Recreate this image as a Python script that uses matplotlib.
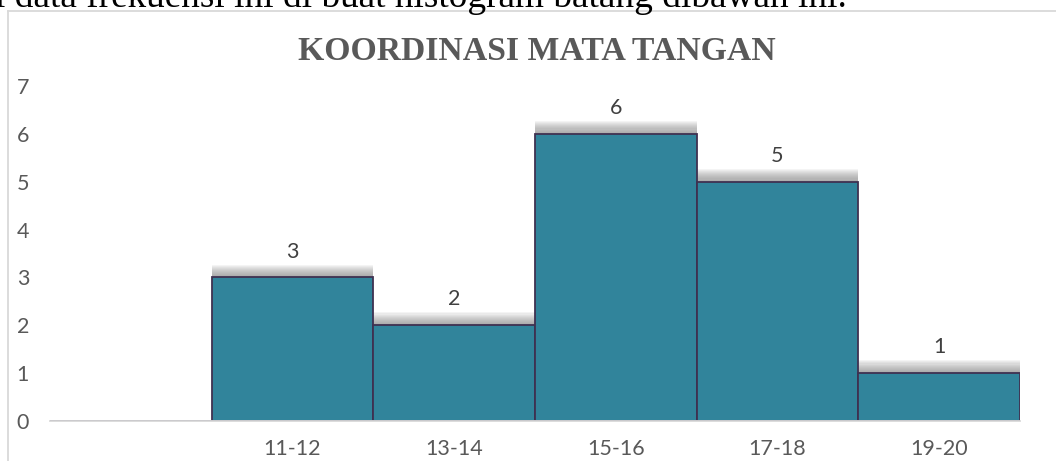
import matplotlib.pyplot as plt
from matplotlib.lines import Line2D

# data
categories = ['', '11-12', '13-14', '15-16', '17-18', '19-20']
counts = [0, 3, 2, 6, 5, 1]
title = 'KOORDINASI MATA TANGAN'
caption = 'i data frekuensi ini di buat histogram batang dibawah ini.'

W, H = 1056, 461
fig = plt.figure(figsize=(W / 100, H / 100), dpi=100)

# chart frame (only left + top visible in the crop)
fig.add_artist(Line2D([8 / W, 8 / W], [0, 1 - 11 / H], color='#d9d9d9', lw=1.3))
fig.add_artist(Line2D([8 / W, 1], [1 - 11 / H, 1 - 11 / H], color='#d9d9d9', lw=1.3))

# cut-off sentence above the chart
fig.text(-5 / W, 1 - 7 / H, caption, family='Liberation Serif', fontsize=26.8,
         color='black', va='baseline', ha='left')

ax = fig.add_axes([50 / W, 40 / H, 970 / W, 1 - 86 / H - 40 / H])
x = list(range(len(categories)))

# soft grey shadow above the bars
n_steps = 12
shadow_h = 0.27
for k in range(n_steps):
    ax.bar([xi for xi, c in zip(x, counts) if c > 0],
           [shadow_h * (k + 1) / n_steps] * sum(1 for c in counts if c > 0),
           bottom=[c for c in counts if c > 0], width=1.0,
           color='#7f7f7f', alpha=0.08, linewidth=0, zorder=1)

ax.bar(x, counts, width=1.0, color='#31849b', edgecolor='#3f3151',
       linewidth=1.3, zorder=2)

for xi, c in zip(x, counts):
    if c > 0:
        ax.text(xi, c + 0.33, str(c), ha='center', va='bottom',
                family='Lato', fontsize=15.5, color='#404040')

ax.set_xlim(-0.5, len(categories) - 0.5)
ax.set_ylim(0, 7)
ax.set_xticks(x)
ax.set_xticklabels(categories, family='Lato', fontsize=15.5, color='#595959')
ax.set_yticks(range(8))
ax.set_yticklabels([str(i) for i in range(8)], family='Lato', fontsize=15.5,
                   color='#595959')
ax.tick_params(length=0)
ax.tick_params(axis='x', pad=13)
ax.tick_params(axis='y', pad=15)
for side in ['top', 'right', 'left']:
    ax.spines[side].set_visible(False)
ax.spines['bottom'].set_color('#d9d9d9')
ax.spines['bottom'].set_linewidth(1.3)
ax.spines['bottom'].set_zorder(3)

fig.text(537 / W, 1 - 52 / H, title, family='Liberation Serif',
         fontweight='bold', fontsize=24.3, color='#595959', ha='center', va='center')

fig.savefig('out.png', dpi=100)
